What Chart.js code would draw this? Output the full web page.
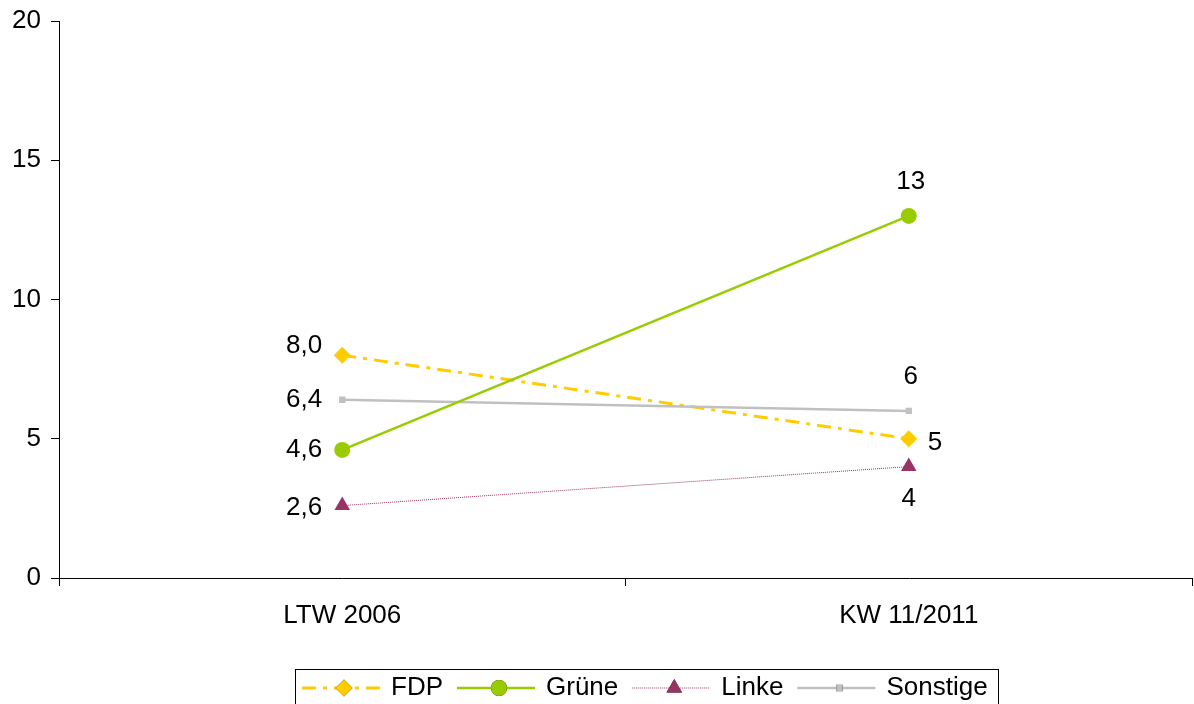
<!DOCTYPE html>
<html>
<head>
<meta charset="utf-8">
<script src="https://cdn.jsdelivr.net/npm/chart.js@4/dist/chart.umd.min.js"></script>
<style>
  html, body { margin: 0; padding: 0; background: #fff; }
  #wrap { width: 1194px; height: 704px; }
</style>
</head>
<body>
<div id="wrap"><canvas id="voteChart" width="1194" height="704"></canvas></div>
<script>
// Daten
const categories = ["LTW 2006", "KW 11/2011"];
const fdp = [8.0, 5];
const gruene = [4.6, 13];
const linke = [2.6, 4];
const sonstige = [6.4, 6];
const yTicks = [0, 5, 10, 15, 20];

const FONT = "'Liberation Sans', Arial, sans-serif";

// Beschriftung der Punkte (links beim ersten Wert, sonst je Serie)
const labelPlugin = {
  id: "pointLabels",
  afterDatasetsDraw(chart) {
    const ctx = chart.ctx;
    ctx.save();
    ctx.font = "26px " + FONT;
    ctx.fillStyle = "#000";
    chart.data.datasets.forEach((ds, di) => {
      const meta = chart.getDatasetMeta(di);
      meta.data.forEach((pt, i) => {
        const v = ds.data[i];
        const txt = i === 0 ? v.toFixed(1).replace(".", ",") : String(v);
        const pos = ds.labelPos[i];
        let x = pt.x, y = pt.y;
        if (pos === "left") {
          ctx.textAlign = "right"; ctx.textBaseline = "middle";
          x -= 20; y += ds.labelDy || 0;
        } else if (pos === "top") {
          ctx.textAlign = "center"; ctx.textBaseline = "middle";
          x += 2; y -= 34;
        } else if (pos === "right") {
          ctx.textAlign = "left"; ctx.textBaseline = "middle";
          x += 19; y += 4;
        } else {
          ctx.textAlign = "center"; ctx.textBaseline = "middle";
          y += 32;
        }
        ctx.fillText(txt, x, y);
      });
    });
    ctx.restore();
  }
};

// Legende mit Linienmuster und Markern, umrahmt
const legendPlugin = {
  id: "boxLegend",
  afterDraw(chart) {
    const ctx = chart.ctx;
    const left = 295, top = 669, right = 998, bottom = 706;
    const cy = 688;
    ctx.save();
    ctx.strokeStyle = "#000";
    ctx.lineWidth = 1;
    ctx.strokeRect(left + 0.5, top + 0.5, right - left, bottom - top);
    ctx.font = "26px " + FONT;
    ctx.textBaseline = "middle";
    ctx.textAlign = "left";
    let x = 302;
    chart.data.datasets.forEach(ds => {
      ctx.save();
      ctx.strokeStyle = ds.borderColor;
      ctx.lineWidth = ds.borderWidth;
      ctx.setLineDash(ds.borderDash || []);
      ctx.beginPath();
      ctx.moveTo(x, cy);
      ctx.lineTo(x + 78, cy);
      ctx.stroke();
      ctx.setLineDash([]);
      Chart.helpers.drawPoint(ctx, {
        pointStyle: ds.pointStyle,
        radius: ds.pointRadius,
        borderWidth: 0,
        rotation: 0
      }, x + 42, cy);
      ctx.fillStyle = ds.pointBackgroundColor;
      ctx.fill();
      ctx.restore();
      ctx.fillStyle = "#000";
      ctx.fillText(ds.label, x + 89, cy);
      x += 89 + ctx.measureText(ds.label).width + 14;
    });
    ctx.restore();
  }
};

const ctx = document.getElementById("voteChart").getContext("2d");
new Chart(ctx, {
  type: "line",
  data: {
    labels: categories,
    datasets: [
      {
        label: "FDP", data: fdp,
        borderColor: "#FFCC00", borderWidth: 3, borderDash: [14, 7, 4, 7],
        pointStyle: "rectRot", pointRadius: 8.5, pointBorderWidth: 0,
        pointBackgroundColor: "#FFCC00",
        labelPos: ["left", "right"], labelDy: -9, order: 3
      },
      {
        label: "Grüne", data: gruene,
        borderColor: "#99CC00", borderWidth: 2.5,
        pointStyle: "circle", pointRadius: 8, pointBorderWidth: 0,
        pointBackgroundColor: "#99CC00",
        labelPos: ["left", "top"], order: 0
      },
      {
        label: "Linke", data: linke,
        borderColor: "#993366", borderWidth: 1, borderDash: [1, 1],
        pointStyle: "triangle", pointRadius: 9, pointBorderWidth: 0,
        pointBackgroundColor: "#993366",
        labelPos: ["left", "bottom"], labelDy: 2, order: 2
      },
      {
        label: "Sonstige", data: sonstige,
        borderColor: "#C0C0C0", borderWidth: 2.5,
        pointStyle: "rect", pointRadius: 4.5, pointBorderWidth: 0,
        pointBackgroundColor: "#C0C0C0",
        labelPos: ["left", "top"], order: 1
      }
    ]
  },
  options: {
    responsive: false,
    animation: false,
    layout: { autoPadding: false, padding: { top: 21, right: 2, bottom: 56, left: 0 } },
    elements: { line: { tension: 0 } },
    plugins: {
      legend: { display: false },
      tooltip: { enabled: false }
    },
    scales: {
      x: {
        type: "category",
        offset: true,
        grid: {
          offset: true, drawOnChartArea: false,
          color: "#000", tickColor: "#000", tickLength: 8
        },
        border: { color: "#000", width: 1 },
        ticks: { color: "#000", font: { family: FONT, size: 26 }, padding: 14 },
        afterFit(s) { s.height = 70; s.paddingLeft = 0; s.paddingRight = 0; }
      },
      y: {
        min: 0, max: 20,
        afterBuildTicks(s) { s.ticks = yTicks.map(v => ({ value: v })); },
        grid: {
          drawOnChartArea: false,
          color: "#000", tickColor: "#000", tickLength: 8
        },
        border: { color: "#000", width: 1 },
        ticks: { color: "#000", font: { family: FONT, size: 26 }, padding: 10 },
        afterFit(s) { s.width = 59; s.paddingTop = 0; s.paddingBottom = 0; }
      }
    }
  },
  plugins: [labelPlugin, legendPlugin]
});
</script>
</body>
</html>
